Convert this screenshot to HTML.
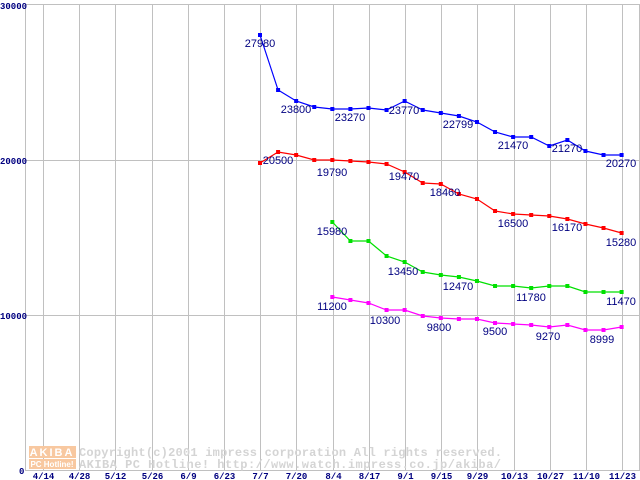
<!DOCTYPE html>
<html><head><meta charset="utf-8"><style>
body{margin:0;background:#fff}
svg{display:block}
.l{font-family:"Liberation Sans",sans-serif;font-size:11px;fill:#000080;text-anchor:middle}
.ax{font-family:"Liberation Mono",monospace;font-size:9px;fill:#000080;font-weight:bold}
.wm{font-family:"Liberation Mono",monospace;font-size:12px;fill:#d4d4d4;font-weight:bold}
</style></head><body>
<svg width="640" height="480" viewBox="0 0 640 480" xmlns="http://www.w3.org/2000/svg">
<g stroke="#c0c0c0" stroke-width="1" fill="none" id="grid"></g>
<g id="wm">
<rect x="29" y="446" width="47" height="12" fill="#f8c8a0"/>
<rect x="29" y="459" width="47" height="10" fill="#f8c8a0"/>
<text x="52" y="456" font-family="Liberation Sans,sans-serif" font-size="11" font-weight="bold" fill="#fff" text-anchor="middle" letter-spacing="2">AKIBA</text>
<text x="52" y="467" font-family="Liberation Sans,sans-serif" font-size="8" font-weight="bold" fill="#fff" text-anchor="middle">PC Hotline!</text>
<text class="wm" x="79" y="456" textLength="423">Copyright(c)2001 impress corporation All rights reserved.</text>
<text class="wm" x="79" y="468" textLength="422">AKIBA PC Hotline!  http://www.watch.impress.co.jp/akiba/</text>
</g>
<g id="series"></g>
<g id="labels"></g>
</svg>
<script>
var NS="http://www.w3.org/2000/svg";
function el(p,t,a,txt){var e=document.createElementNS(NS,t);for(var k in a)e.setAttribute(k,a[k]);if(txt!=null)e.textContent=txt;p.appendChild(e);return e;}
var g=document.getElementById('grid');
el(g,'line',{x1:25.5,y1:4.5,x2:639.5,y2:4.5});
el(g,'line',{x1:25.5,y1:160.5,x2:639.5,y2:160.5});
el(g,'line',{x1:25.5,y1:315.5,x2:639.5,y2:315.5});
el(g,'line',{x1:25.5,y1:470.5,x2:639.5,y2:470.5});
el(g,'line',{x1:25.5,y1:4,x2:25.5,y2:471});
el(g,'line',{x1:639.5,y1:4,x2:639.5,y2:471});
var xl=["4/14","4/28","5/12","5/26","6/9","6/23","7/7","7/20","8/4","8/17","9/1","9/15","9/29","10/13","10/27","11/10","11/23"];
var lab=document.getElementById('labels');
for(var i=0;i<17;i++){var x=Math.round(43+36.2*i)+0.5;el(g,'line',{x1:x,y1:4,x2:x,y2:471});
el(lab,'text',{'class':'ax',x:x,y:479,'text-anchor':'middle'},xl[i]);}
el(lab,'text',{'class':'ax',x:0,y:9},"30000");
el(lab,'text',{'class':'ax',x:0,y:164},"20000");
el(lab,'text',{'class':'ax',x:0,y:319},"10000");
el(lab,'text',{'class':'ax',x:19,y:474},"0");
var S=[
["#0000ff",0,[35,90,101,107,109,109,108,110,101,110,113,116,122,132,137,137,146,140,151,155,155]],
["#ff0000",0,[163,152,155,160,160,161,162,164,172,183,184,194,199,211,214,215,216,219,224,228,233]],
["#00e000",4,[222,241,241,256,262,272,275,277,281,286,286,288,286,286,292,292,292]],
["#ff00ff",4,[297,300,303,310,310,316,318,319,319,323,324,325,327,325,330,330,327]]];
var sg=document.getElementById('series');
S.forEach(function(s){var pts=s[2].map(function(y,j){return [260+18.08*(j+s[1]),y];});
el(sg,'polyline',{points:pts.map(function(p){return p.join(',')}).join(' '),fill:'none',stroke:s[0],'stroke-width':1.2});
pts.forEach(function(p){el(sg,'rect',{x:p[0]-2,y:p[1]-2,width:4,height:4,fill:s[0]});});});
var L=[["27980",260,47],["23800",296,113],["23270",350,121],["23770",404,114],["22799",458,128],["21470",513,149],["21270",567,152],["20270",621,167],
["20500",278,164],["19790",332,176],["19470",404,180],["18460",445,196],["16500",513,227],["16170",567,231],["15280",621,246],
["15980",332,235],["13450",403,275],["12470",458,290],["11780",531,301],["11470",621,305],
["11200",332,310],["10300",385,324],["9800",439,331],["9500",495,335],["9270",548,340],["8999",602,343]];
L.forEach(function(t){el(lab,'text',{'class':'l',x:t[1],y:t[2]},t[0]);});
</script>
</body></html>
